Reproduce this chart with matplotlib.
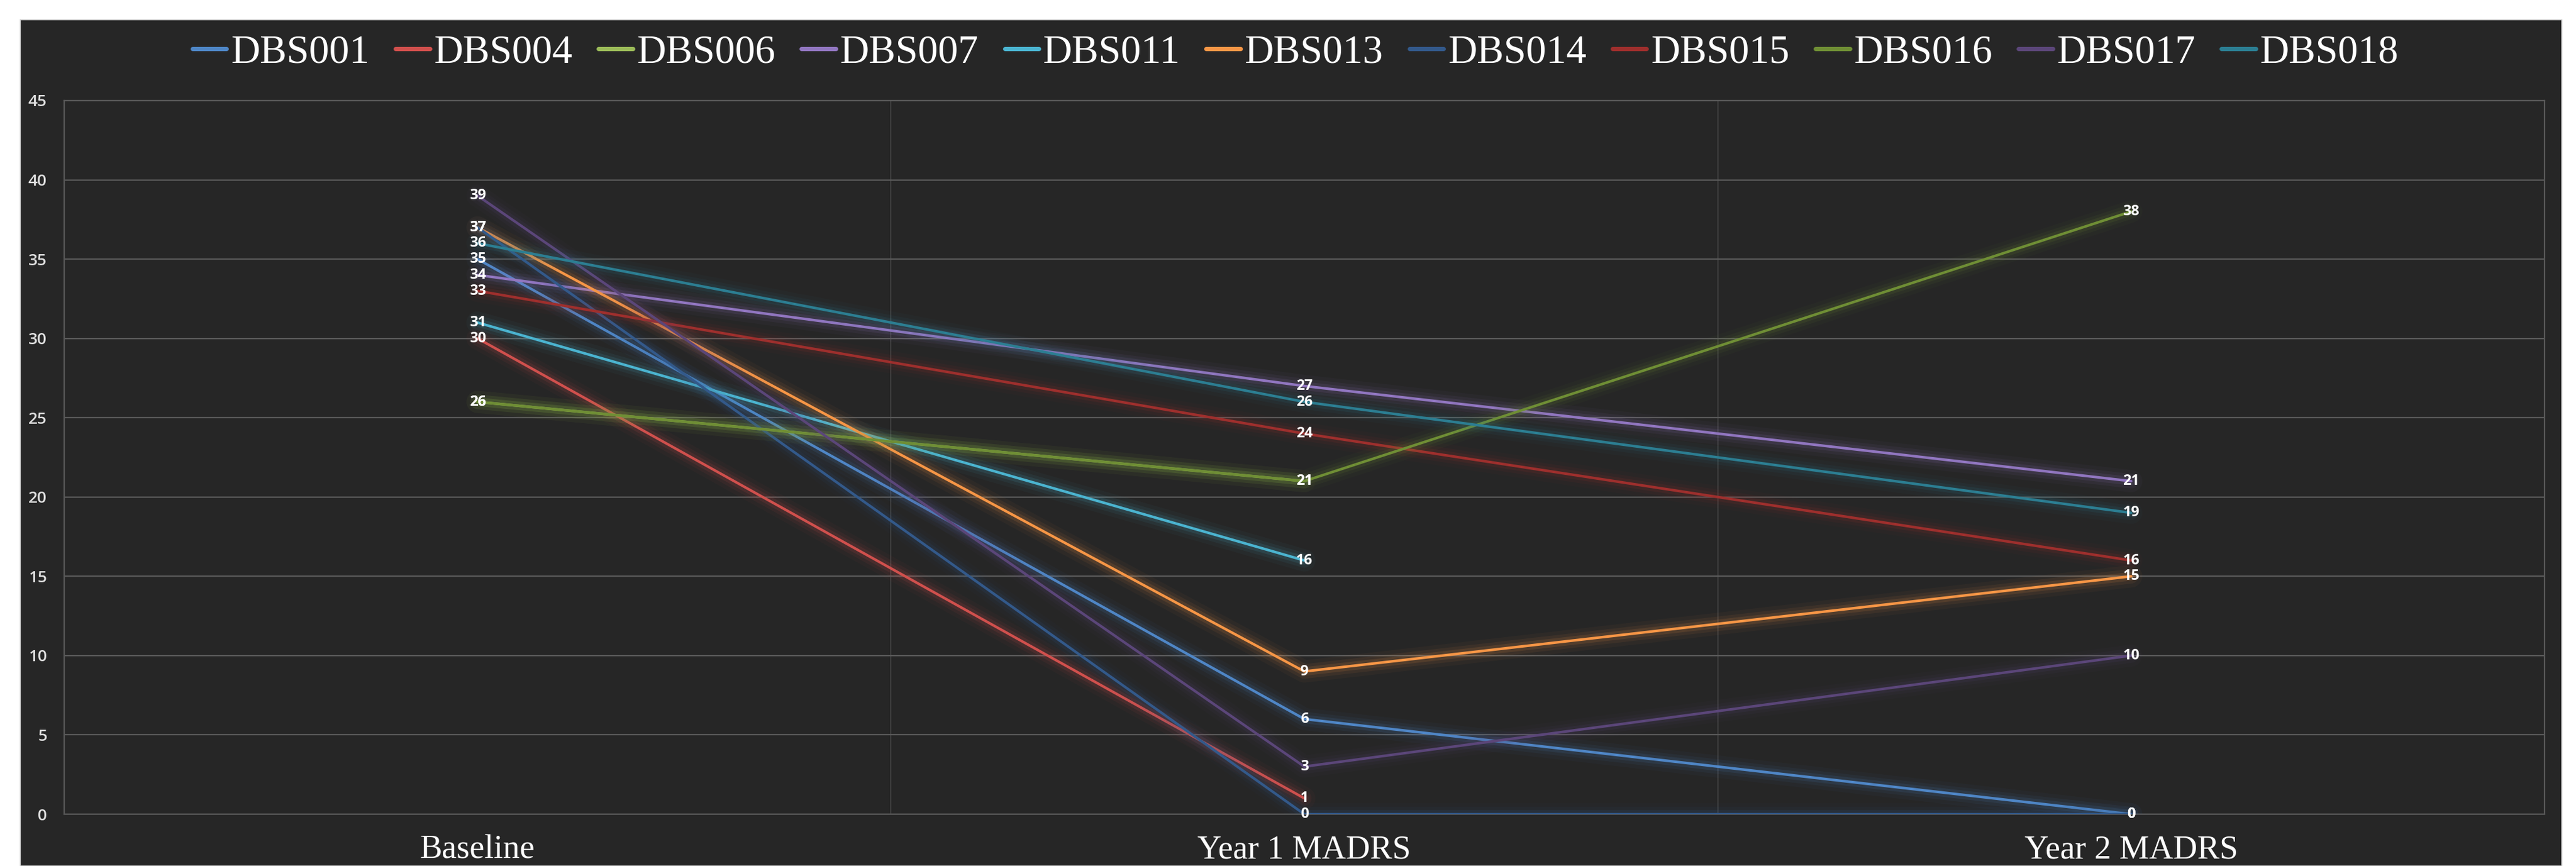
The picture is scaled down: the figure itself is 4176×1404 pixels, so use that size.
import numpy as np
import matplotlib.pyplot as plt
import matplotlib.patheffects as pe
from matplotlib.patches import Rectangle

categories = ["Baseline", "Year 1 MADRS", "Year 2 MADRS"]
patients = ["DBS001", "DBS004", "DBS006", "DBS007", "DBS011", "DBS013",
            "DBS014", "DBS015", "DBS016", "DBS017", "DBS018"]

nan = np.nan
dbs001 = [35, 6, 0]
dbs004 = [30, 1, nan]
dbs006 = [26, 21, nan]
dbs007 = [34, 27, 21]
dbs011 = [31, 16, nan]
dbs013 = [37, 9, 15]
dbs014 = [37, 0, 0]
dbs015 = [33, 24, 16]
dbs016 = [26, 21, 38]
dbs017 = [39, 3, 10]
dbs018 = [36, 26, 19]
scores = [dbs001, dbs004, dbs006, dbs007, dbs011, dbs013,
          dbs014, dbs015, dbs016, dbs017, dbs018]

colors = ["#4F86C6", "#D0504D", "#9BBB59", "#9176C0", "#4BB4D0", "#F79646",
          "#33598A", "#9E2F2D", "#6F8E35", "#5B4679", "#2C7E92"]

W, H = 4176, 1404
bg = "#262626"

fig = plt.figure(figsize=(W / 100, H / 100), dpi=100, facecolor="white")
fig.patches.append(Rectangle((33 / W, 0), (4153 - 33) / W, (H - 32) / H,
                             transform=fig.transFigure, facecolor=bg,
                             edgecolor="#cfcfcf", lw=1.2, zorder=-5))

ax = fig.add_axes([104 / W, (H - 1320) / H, (4125 - 104) / W, (1320 - 163) / H])
ax.set_zorder(2)
ax.set_facecolor(bg)

x = np.arange(len(categories))
for name, vals, col in zip(patients, scores, colors):
    vals = np.array(vals, dtype=float)
    # soft glow under each line
    glow = [pe.Stroke(linewidth=26, foreground=col, alpha=0.04),
            pe.Stroke(linewidth=17, foreground=col, alpha=0.07),
            pe.Stroke(linewidth=10, foreground=col, alpha=0.12),
            pe.Normal()]
    ax.plot(x, vals, color=col, lw=3, label=name, path_effects=glow,
            solid_capstyle="round", zorder=3)
    for xi, v in zip(x, vals):
        if not np.isnan(v):
            ax.text(xi, v, f"{int(v)}", ha="center", va="center", color="white",
                    fontsize=17, fontweight="bold", family="Open Sans", zorder=5)

ax.set_xlim(-0.5, 2.5)
ax.set_ylim(0, 45)
ax.set_yticks(range(0, 50, 5))
ax.set_xticks(x)
ax.set_xticklabels(categories, family="Liberation Serif", fontsize=39, color="white")
ax.set_xticks([0.5, 1.5], minor=True)
ax.tick_params(axis="x", which="both", length=0, pad=24)
ax.tick_params(axis="y", length=0, pad=20, labelsize=19, labelcolor="#e0e0e0")
for lab in ax.get_yticklabels():
    lab.set_family("Open Sans")
    lab.set_fontweight("semibold")

ax.grid(axis="y", color="#5a5a5a", lw=1.6)
ax.grid(axis="x", which="minor", color="#444444", lw=1.2)
ax.set_axisbelow(True)
for sp in ax.spines.values():
    sp.set_color("#595959")
    sp.set_linewidth(1.6)

leg = fig.legend(loc="center", bbox_to_anchor=(2100 / W, 1 - 86 / H), ncol=11,
                 frameon=False, prop={"family": "Liberation Serif", "size": 47},
                 handlelength=0.85, handletextpad=0.1, columnspacing=0.65)
for t in leg.get_texts():
    t.set_color("white")
for h in leg.legend_handles:
    h.set_linewidth(5)
    h.set_path_effects([])

fig.savefig("out.png", dpi=100, facecolor="white")
